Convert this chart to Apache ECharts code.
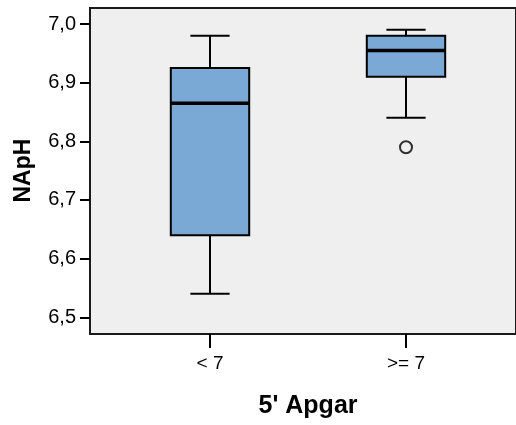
<!DOCTYPE html>
<html>
<head>
<meta charset="utf-8">
<script src="https://cdn.jsdelivr.net/npm/echarts@6/dist/echarts.min.js"></script>
<style>html,body{margin:0;padding:0;background:#fff}#c{width:516px;height:425px}</style>
</head>
<body>
<div id="c"></div>
<script>
var categories = ['< 7', '>= 7'];
var lowerWhisker = [6.54, 6.84];
var q1 = [6.64, 6.91];
var median = [6.865, 6.955];
var q3 = [6.925, 6.98];
var upperWhisker = [6.98, 6.99];
var outliers = [[1, 6.79]];
var yTicks = { min: 6.5, max: 7.0, interval: 0.1 };

var FONT = '"Liberation Sans", Arial, sans-serif';
var boxData = categories.map(function (c, i) {
  return [i, lowerWhisker[i], q1[i], median[i], q3[i], upperWhisker[i]];
});

var chart = echarts.init(document.getElementById('c'), null, { renderer: 'canvas' });
chart.setOption({
  animation: false,
  backgroundColor: '#ffffff',
  grid: [
    { left: 90, top: 8, right: -3, bottom: 91, show: true, backgroundColor: '#efefef', borderColor: '#1a1a1a', borderWidth: 2 },
    { left: 112, top: 24, right: 12, bottom: 107.7 }
  ],
  xAxis: [
    { gridIndex: 0, type: 'value', show: false },
    {
      gridIndex: 1, type: 'category', data: categories, offset: 16.7,
      axisLine: { show: false },
      axisTick: { show: true, alignWithLabel: true, length: 14, lineStyle: { color: '#000', width: 2 } },
      axisLabel: { color: '#000', fontSize: 19, fontFamily: FONT, margin: 20 },
      name: "5' Apgar", nameLocation: 'middle', nameGap: 60,
      nameTextStyle: { color: '#000', fontSize: 25, fontWeight: 'bold', fontFamily: FONT }
    }
  ],
  yAxis: [
    { gridIndex: 0, type: 'value', show: false },
    {
      gridIndex: 1, type: 'value', min: yTicks.min, max: yTicks.max, interval: yTicks.interval,
      offset: 22,
      axisLine: { show: false },
      splitLine: { show: false },
      axisTick: { show: true, length: 10, lineStyle: { color: '#000', width: 2 } },
      axisLabel: {
        color: '#000', fontSize: 20, fontFamily: FONT, margin: 14,
        formatter: function (v) { return v.toFixed(1).replace('.', ','); }
      },
      name: 'NApH', nameLocation: 'middle', nameGap: 55,
      nameTextStyle: { color: '#000', fontSize: 23, fontWeight: 'bold', fontFamily: FONT }
    }
  ],
  series: [
    {
      type: 'custom', xAxisIndex: 1, yAxisIndex: 1, data: boxData,
      renderItem: function (params, api) {
        var idx = api.value(0);
        var band = api.size([1, 0])[0];
        var bw = band * 0.4, cw = band * 0.2;
        var pLo = api.coord([idx, api.value(1)]);
        var pQ1 = api.coord([idx, api.value(2)]);
        var pMd = api.coord([idx, api.value(3)]);
        var pQ3 = api.coord([idx, api.value(4)]);
        var pHi = api.coord([idx, api.value(5)]);
        var x = pMd[0];
        var ls = { stroke: '#000', lineWidth: 2 };
        return {
          type: 'group',
          children: [
            { type: 'line', shape: { x1: x, y1: pHi[1], x2: x, y2: pQ3[1] }, style: ls },
            { type: 'line', shape: { x1: x, y1: pQ1[1], x2: x, y2: pLo[1] }, style: ls },
            { type: 'line', shape: { x1: x - cw / 2, y1: pHi[1], x2: x + cw / 2, y2: pHi[1] }, style: ls },
            { type: 'line', shape: { x1: x - cw / 2, y1: pLo[1], x2: x + cw / 2, y2: pLo[1] }, style: ls },
            { type: 'rect', shape: { x: x - bw / 2, y: pQ3[1], width: bw, height: pQ1[1] - pQ3[1] },
              style: { fill: '#7ba9d6', stroke: '#000', lineWidth: 2 } },
            { type: 'line', shape: { x1: x - bw / 2, y1: pMd[1], x2: x + bw / 2, y2: pMd[1] }, style: { stroke: '#000', lineWidth: 3.5 } }
          ]
        };
      }
    },
    {
      type: 'scatter', xAxisIndex: 1, yAxisIndex: 1, data: outliers,
      symbol: 'circle', symbolSize: 12,
      itemStyle: { color: 'rgba(0,0,0,0)', borderColor: '#000', borderWidth: 2 }
    }
  ]
});
</script>
</body>
</html>
